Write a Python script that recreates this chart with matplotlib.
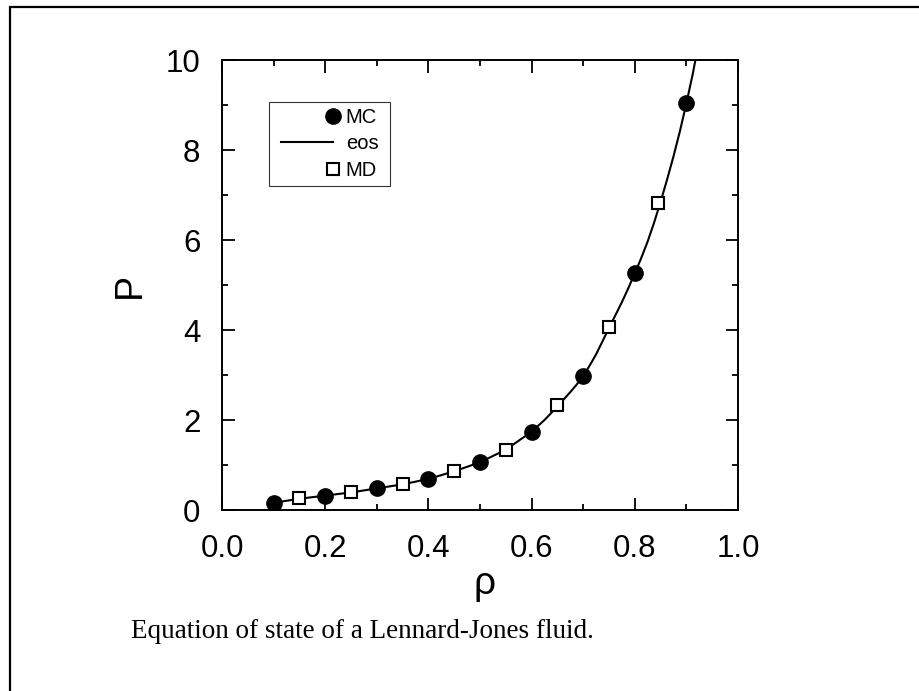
import numpy as np
import matplotlib
matplotlib.use("Agg")
import matplotlib.pyplot as plt
from matplotlib.patches import Rectangle
from matplotlib.legend_handler import HandlerLine2DCompound
from matplotlib.ticker import MultipleLocator, FormatStrFormatter

# ---- data ----
mc_rho = [0.1, 0.2, 0.3, 0.4, 0.5, 0.6, 0.7, 0.8, 0.9]
mc_p = [0.16, 0.32, 0.48, 0.68, 1.06, 1.74, 2.98, 5.26, 9.04]

md_rho = [0.15, 0.25, 0.35, 0.45, 0.55, 0.65, 0.75, 0.844]
md_p = [0.26, 0.39, 0.57, 0.87, 1.33, 2.33, 4.06, 6.82]

eos_rho = [0.10, 0.15, 0.20, 0.25, 0.30, 0.35, 0.40, 0.45, 0.50, 0.55,
           0.60, 0.625, 0.65, 0.6625, 0.675, 0.6875, 0.70, 0.7125, 0.725,
           0.7375, 0.75, 0.7625, 0.775, 0.7875, 0.80, 0.8125, 0.825,
           0.8375, 0.85, 0.8625, 0.875, 0.8875, 0.90, 0.9125, 0.92]
eos_p = [0.16, 0.25, 0.32, 0.39, 0.48, 0.57, 0.69, 0.86, 1.06, 1.34,
         1.74, 2.00, 2.30, 2.46, 2.62, 2.79, 2.98, 3.21, 3.46,
         3.75, 4.05, 4.33, 4.62, 4.93, 5.26, 5.60, 5.97,
         6.39, 6.85, 7.34, 7.86, 8.42, 9.04, 9.70, 10.15]

caption = "Equation of state of a Lennard-Jones fluid."

W, H = 919, 691
fig = plt.figure(figsize=(W / 100, H / 100), dpi=100)
fig.patch.set_facecolor("white")

sans = ["Liberation Sans", "DejaVu Sans"]
serif = ["Liberation Serif", "DejaVu Serif"]

ax = fig.add_axes([222 / W, (H - 510) / H, 516 / W, 450 / H])

ax.plot(eos_rho, eos_p, color="black", lw=1.5, label="eos", zorder=2)
ax.plot(mc_rho, mc_p, linestyle="none", marker="o", ms=11,
        mfc="black", mec="black", label="MC", zorder=3)
ax.plot(md_rho, md_p, linestyle="none", marker="s", ms=9,
        mfc="white", mec="black", mew=1.5, label="MD", zorder=3)

ax.set_xlim(0, 1)
ax.set_ylim(0, 10)
ax.xaxis.set_major_locator(MultipleLocator(0.2))
ax.xaxis.set_minor_locator(MultipleLocator(0.1))
ax.yaxis.set_major_locator(MultipleLocator(2))
ax.yaxis.set_minor_locator(MultipleLocator(1))
ax.xaxis.set_major_formatter(FormatStrFormatter("%.1f"))
ax.yaxis.set_major_formatter(FormatStrFormatter("%d"))

ax.tick_params(which="both", direction="in", top=True, right=True, width=1.3)
ax.tick_params(which="major", length=9)
ax.tick_params(which="minor", length=4.5)
ax.tick_params(axis="x", which="major", pad=17, labelsize=22.5)
ax.tick_params(axis="y", which="major", pad=15.5, labelsize=22.5)
for lab in ax.get_xticklabels() + ax.get_yticklabels():
    lab.set_family(sans)
for sp in ax.spines.values():
    sp.set_linewidth(1.4)

ax.set_xlabel("ρ", fontsize=28, family=sans, va="baseline")
ax.xaxis.set_label_coords((484 - 222) / 516, (510 - 594) / 450)
ax.set_ylabel("P", fontsize=27, family=sans, va="center")
ax.yaxis.set_label_coords((130 - 222) / 516, 0.5)


class RightMarkerHandler(HandlerLine2DCompound):
    def get_xdata(self, legend, xdescent, ydescent, width, height, fontsize):
        xdata = np.array([-xdescent, -xdescent + width])
        xdata_marker = np.array([-xdescent + width])
        return xdata, xdata_marker


handles, labels = ax.get_legend_handles_labels()
order = [labels.index("MC"), labels.index("eos"), labels.index("MD")]
handles = [handles[i] for i in order]
labels = [labels[i] for i in order]
leg = ax.legend(handles, labels, loc="upper left", mode="expand",
                bbox_to_anchor=(269 / W, 1 - 183 / H, 121 / W, 81 / H),
                bbox_transform=fig.transFigure,
                borderaxespad=0, frameon=True, fancybox=False, shadow=False,
                prop={"family": sans, "size": 14.5}, handlelength=2.88,
                handletextpad=0.65, borderpad=0.28, labelspacing=0.39,
                markerscale=1.0,
                handler_map={h: RightMarkerHandler(xpad=0.32) for h in handles})
leg.get_frame().set_edgecolor("black")
leg.get_frame().set_linewidth(0.8)

fig.text(131 / W, 1 - 638 / H, caption, family=serif, fontsize=19.5,
         ha="left", va="baseline")

fig.add_artist(Rectangle((9.5 / W, -0.2), 2.0, 1.2 - 6.5 / H,
                         transform=fig.transFigure, fill=False,
                         edgecolor="black", lw=1.6, clip_on=False))

fig.savefig("out.png", dpi=100, facecolor="white")
